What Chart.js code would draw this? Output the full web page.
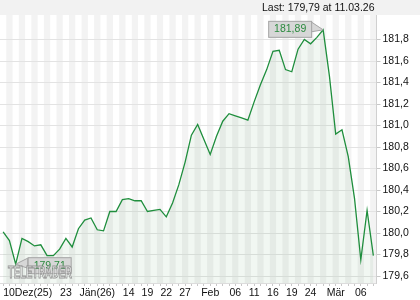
<!DOCTYPE html>
<html>
<head>
<meta charset="utf-8">
<script src="https://cdn.jsdelivr.net/npm/chart.js@4.4.1/dist/chart.umd.min.js"></script>
<style>
	html, body { margin: 0; padding: 0; background: #fff; }
	#wrap { width: 420px; height: 300px; }
</style>
</head>
<body>
<div id="wrap"><canvas id="chart" width="420" height="300"></canvas></div>
<script>
( function () {
	'use strict';

	// ── Data ─────────────────────────────────────────────────────────────

	// daily closes, Dec 10 2025 .. Mar 11 2026
	const prices = [
		180.01, 179.93, 179.71, 179.95, 179.92, 179.88, 179.89, 179.79, 179.79, 179.85,
		179.95, 179.87, 180.04, 180.12, 180.14, 180.03, 180.02, 180.20, 180.20, 180.31,
		180.32, 180.30, 180.30, 180.20, 180.21, 180.22, 180.15, 180.28, 180.45, 180.66,
		180.91, 181.01, 180.87, 180.73, 180.90, 181.04, 181.11, 181.09, 181.07, 181.05,
		181.22, 181.38, 181.52, 181.69, 181.70, 181.52, 181.50, 181.71, 181.80, 181.76,
		181.82, 181.89, 181.46, 180.92, 180.96, 180.71, 180.32, 179.75, 180.21, 179.79,
	];

	// which day carries a date label, and its text
	const tickIndex = [ 0, 10, 15, 20, 23, 26, 29, 33, 37, 40, 43, 46, 49, 53, 57 ];
	const tickText = [ '10Dez(25)', '23', 'Jän(26)', '14', '19', '22', '27', 'Feb', '06', '11', '16', '19', '24', 'Mär', '06' ];

	const yTicks = [ 179.6, 179.8, 180.0, 180.2, 180.4, 180.6, 180.8, 181.0, 181.2, 181.4, 181.6, 181.8 ];
	const yMin = 179.535;
	const yMax = 182.028;

	const headerText = 'Last: 179,79 at 11.03.26';

	// ── Style ────────────────────────────────────────────────────────────

	const FONT = '"Liberation Sans", Arial, sans-serif';
	const LINE = '#1f8e3d';
	const STRIPE = '#f3f3f3';
	const GRID = '#e3e3e3';

	const categories = prices.map( function ( _, i ) { return i; } );
	const labelFor = {};
	tickIndex.forEach( function ( idx, k ) { labelFor[ idx ] = tickText[ k ]; } );

	function deNum( v, d ) {
		return v.toFixed( d ).replace( '.', ',' );
	}

	// ── Plugins ──────────────────────────────────────────────────────────

	const backdrop = {
		id: 'backdrop',
		beforeDraw: function ( chart ) {
			const ctx = chart.ctx;
			const a = chart.chartArea;
			const x = chart.scales.x;
			const step = x.getPixelForValue( 1 ) - x.getPixelForValue( 0 );
			ctx.save();
			ctx.fillStyle = '#f2f2f2';
			ctx.fillRect( 0, 0, chart.width, a.top );
			ctx.fillStyle = STRIPE;
			for ( let i = 1; i < prices.length; i += 2 ) {
				const cx = x.getPixelForValue( i );
				ctx.fillRect( cx - step / 2, a.top, step, a.bottom - a.top );
			}
			ctx.fillStyle = '#111';
			ctx.font = '10.5px ' + FONT;
			ctx.textAlign = 'right';
			ctx.textBaseline = 'middle';
			ctx.fillText( headerText, a.right - 2, 8 );
			ctx.restore();
		},
	};

	function flag( ctx, px, py, text, side ) {
		ctx.font = '10.5px ' + FONT;
		const w = 43;
		const h = 16;
		let bx, by;
		if ( side === 'left' ) {
			bx = px - 12 - w;
			by = py - 9;
		} else {
			bx = px + 12;
			by = py - 7;
		}
		ctx.fillStyle = '#d7d7d7';
		ctx.strokeStyle = '#a5a5a5';
		ctx.lineWidth = 1;
		ctx.beginPath();
		if ( side === 'left' ) {
			ctx.moveTo( bx + w, by + 1 );
			ctx.lineTo( px, py );
			ctx.lineTo( bx + w, by + h - 5 );
		} else {
			ctx.moveTo( bx, by + 1 );
			ctx.lineTo( px, py );
			ctx.lineTo( bx, by + h - 5 );
		}
		ctx.closePath();
		ctx.fill();
		ctx.stroke();
		ctx.fillRect( bx + 0.5, by + 0.5, w, h );
		ctx.strokeRect( bx + 0.5, by + 0.5, w, h );
		ctx.fillStyle = '#2b8a3e';
		ctx.textAlign = 'center';
		ctx.textBaseline = 'middle';
		ctx.fillText( text, bx + w / 2 + 0.5, by + h / 2 + 0.5 );
	}

	const extremes = {
		id: 'extremes',
		afterDatasetsDraw: function ( chart ) {
			const ctx = chart.ctx;
			const x = chart.scales.x;
			const y = chart.scales.y;
			const hi = Math.max.apply( null, prices );
			const lo = Math.min.apply( null, prices );
			const iHi = prices.indexOf( hi );
			const iLo = prices.indexOf( lo );
			ctx.save();
			flag( ctx, x.getPixelForValue( iHi ), y.getPixelForValue( hi ), deNum( hi, 2 ), 'left' );
			flag( ctx, x.getPixelForValue( iLo ), y.getPixelForValue( lo ), deNum( lo, 2 ), 'right' );

			// watermark
			ctx.font = 'bold 17px ' + FONT;
			const tw = ctx.measureText( 'TELETRADER' ).width;
			ctx.translate( 8, 273 );
			ctx.scale( 64 / tw, 1 );
			ctx.textBaseline = 'middle';
			ctx.textAlign = 'left';
			ctx.fillStyle = 'rgba(255,255,255,0.45)';
			ctx.strokeStyle = 'rgba(140,140,140,0.9)';
			ctx.lineWidth = 1.1;
			ctx.fillText( 'TELETRADER', 0, 0 );
			ctx.strokeText( 'TELETRADER', 0, 0 );
			ctx.restore();
		},
	};

	// ── Chart ────────────────────────────────────────────────────────────

	new Chart( document.getElementById( 'chart' ).getContext( '2d' ), {
		type: 'line',
		data: {
			labels: categories,
			datasets: [ {
				data: prices,
				borderColor: LINE,
				borderWidth: 1.3,
				backgroundColor: 'rgba(60,140,70,0.07)',
				fill: 'start',
				pointRadius: 0,
				tension: 0,
			} ],
		},
		plugins: [ backdrop, extremes ],
		options: {
			responsive: false,
			animation: false,
			devicePixelRatio: 1,
			layout: { padding: { top: 15, left: 0, right: 0, bottom: 0 } },
			plugins: {
				legend: { display: false },
				tooltip: { enabled: false },
			},
			scales: {
				x: {
					type: 'category',
					offset: true,
					afterFit: function ( s ) { s.height = 17; },
					grid: {
						drawOnChartArea: false,
						tickLength: 3,
						tickColor: '#c8c8c8',
						offset: false,
					},
					border: { display: true, color: '#dcdcdc' },
					ticks: {
						autoSkip: false,
						maxRotation: 0,
						align: 'inner',
						padding: 1,
						color: '#111',
						font: { family: FONT, size: 10.5 },
						callback: function ( v, i ) { return labelFor[ i ] || ''; },
					},
				},
				y: {
					position: 'right',
					min: yMin,
					max: yMax,
					afterFit: function ( s ) { s.width = 43.5; },
					afterBuildTicks: function ( s ) {
						s.ticks = yTicks.map( function ( v ) { return { value: v }; } );
					},
					grid: { color: GRID, tickLength: 4, tickColor: '#c8c8c8' },
					border: { display: true, color: '#d0d0d0' },
					ticks: {
						padding: 2,
						color: '#111',
						font: { family: FONT, size: 10.5 },
						callback: function ( v ) { return deNum( v, 1 ); },
					},
				},
			},
		},
	} );
} )();
</script>
</body>
</html>
